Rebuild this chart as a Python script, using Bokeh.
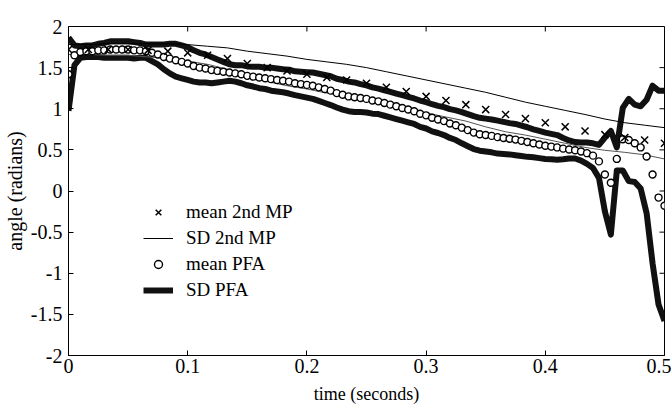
import numpy as np
from bokeh.plotting import figure
from bokeh.models import Range1d, Legend, LegendItem, FixedTicker
from bokeh.embed import file_html
from bokeh.resources import INLINE

# ---- data ----
pfa_step = 0.005          # seconds between PFA samples
mean_pfa = [1.42, 1.65, 1.69, 1.70, 1.70, 1.71, 1.71, 1.72, 1.72, 1.72,
            1.72, 1.71, 1.71, 1.70, 1.68, 1.66, 1.63, 1.61, 1.59, 1.57,
            1.55, 1.52, 1.50, 1.49, 1.47, 1.46, 1.45, 1.44, 1.43, 1.42,
            1.40, 1.39, 1.38, 1.37, 1.36, 1.35, 1.34, 1.33, 1.31, 1.30,
            1.29, 1.28, 1.26, 1.24, 1.22, 1.19, 1.17, 1.15, 1.14, 1.13,
            1.12, 1.10, 1.09, 1.07, 1.05, 1.03, 1.01, 0.99, 0.97, 0.94,
            0.92, 0.89, 0.87, 0.85, 0.82, 0.80, 0.77, 0.74, 0.71, 0.69,
            0.68, 0.67, 0.655, 0.645, 0.635, 0.625, 0.61, 0.595, 0.58, 0.565,
            0.55, 0.54, 0.53, 0.515, 0.505, 0.495, 0.48, 0.46, 0.43, 0.36,
            0.20, 0.10, 0.39, 0.63, 0.62, 0.58, 0.53, 0.42, 0.20, -0.08,
            -0.18]
sd_pfa = [0.445, 0.12, 0.07, 0.07, 0.07, 0.08, 0.09, 0.10, 0.10, 0.10,
          0.10, 0.10, 0.09, 0.08, 0.10, 0.12, 0.15, 0.18, 0.20, 0.20,
          0.20, 0.19, 0.18, 0.17, 0.16, 0.14, 0.12, 0.10, 0.10, 0.11,
          0.115, 0.12, 0.13, 0.13, 0.14, 0.14, 0.14, 0.145, 0.145, 0.15,
          0.155, 0.16, 0.165, 0.17, 0.175, 0.175, 0.18, 0.18, 0.18, 0.17,
          0.165, 0.16, 0.155, 0.155, 0.155, 0.155, 0.155, 0.155, 0.155, 0.16,
          0.16, 0.165, 0.165, 0.17, 0.175, 0.18, 0.19, 0.195, 0.20, 0.20,
          0.20, 0.20, 0.20, 0.195, 0.19, 0.19, 0.185, 0.18, 0.17, 0.165,
          0.16, 0.155, 0.15, 0.13, 0.11, 0.10, 0.11, 0.13, 0.15, 0.20,
          0.45, 0.63, 0.14, 0.38, 0.50, 0.47, 0.50, 0.69, 1.08, 1.30,
          1.40]

mp_step = 1.0 / 60.0       # seconds between 2nd MP samples
mean_mp = [1.72, 1.72, 1.72, 1.72, 1.71, 1.70, 1.68, 1.65, 1.61, 1.55,
           1.50, 1.46, 1.42, 1.38, 1.35, 1.31, 1.26, 1.21, 1.15, 1.10,
           1.05, 0.99, 0.93, 0.88, 0.83, 0.78, 0.73, 0.685, 0.65, 0.62,
           0.58]
sd_mp = [0.06, 0.06, 0.07, 0.07, 0.08, 0.09, 0.10, 0.11, 0.13, 0.15,
         0.17, 0.18, 0.18, 0.19, 0.19, 0.19, 0.19, 0.19, 0.20, 0.20,
         0.20, 0.21, 0.21, 0.20, 0.20, 0.20, 0.20, 0.19, 0.18, 0.18,
         0.19]

x_ticks = [0, 0.1, 0.2, 0.3, 0.4, 0.5]
x_tick_labels = ["0", "0.1", "0.2", "0.3", "0.4", "0.5"]
y_ticks = [-2, -1.5, -1, -0.5, 0, 0.5, 1, 1.5, 2]
y_tick_labels = ["-2", "-1.5", "-1", "-0.5", "0", "0.5", "1", "1.5", "2"]

# ---- derived ----
t_pfa = np.arange(len(mean_pfa)) * pfa_step
t_mp = np.arange(len(mean_mp)) * mp_step
m_pfa = np.array(mean_pfa)
s_pfa = np.array(sd_pfa)
m_mp = np.array(mean_mp)
s_mp = np.array(sd_mp)

FONT = "Liberation Serif"
X0, X1, Y0, Y1 = 0.0, 0.5, -2.0, 2.0
W, H = 671, 410
BL, BR, BT, BB = 68, 7, 26, 55

p = figure(width=W, height=H, x_range=Range1d(X0, X1), y_range=Range1d(Y0, Y1),
           output_backend="svg", toolbar_location=None,
           min_border_left=BL, min_border_right=BR, min_border_top=BT, min_border_bottom=BB)
p.grid.visible = False
p.outline_line_color = "black"
p.outline_line_width = 1
p.background_fill_color = "white"
p.border_fill_color = "white"

def style_axis(ax, ticks, labels, size):
    ax.ticker = FixedTicker(ticks=ticks)
    ax.major_label_overrides = {t: l for t, l in zip(ticks, labels)}
    ax.major_tick_in = 5
    ax.major_tick_out = 0
    ax.minor_tick_in = 0
    ax.minor_tick_out = 0
    ax.axis_line_color = "black"
    ax.major_tick_line_color = "black"
    ax.major_label_text_font = FONT
    ax.major_label_text_font_size = "20px"
    ax.major_label_text_color = "black"
    ax.axis_label_text_font = FONT
    ax.axis_label_text_font_size = size
    ax.axis_label_text_font_style = "normal"
    ax.axis_label_text_color = "black"

style_axis(p.xaxis[0], x_ticks, x_tick_labels, "18px")
style_axis(p.yaxis[0], y_ticks, y_tick_labels, "20px")
p.xaxis[0].axis_label = "time (seconds)"
p.yaxis[0].axis_label = "angle (radians)"
p.xaxis[0].major_label_standoff = 3
p.xaxis[0].axis_label_standoff = 8
p.yaxis[0].major_label_standoff = 6
p.yaxis[0].axis_label_standoff = 2

# inward tick marks on the top and right edges of the box
frame_w = W - BL - BR
frame_h = H - BT - BB
tick_len_x = 5 * (X1 - X0) / frame_w
tick_len_y = 5 * (Y1 - Y0) / frame_h
p.segment(x0=x_ticks, x1=x_ticks, y0=[Y1] * len(x_ticks), y1=[Y1 - tick_len_y] * len(x_ticks),
          line_color="black", line_width=1)
p.segment(x0=[X1] * len(y_ticks), x1=[X1 - tick_len_x] * len(y_ticks), y0=y_ticks, y1=y_ticks,
          line_color="black", line_width=1)

# SD PFA (thick)
r_sdp_hi = p.line(t_pfa, m_pfa + s_pfa, line_color="#111111", line_width=6, line_join="round")
r_sdp_lo = p.line(t_pfa, m_pfa - s_pfa, line_color="#111111", line_width=6, line_join="round")
# SD 2nd MP (thin)
r_sdm_hi = p.line(t_mp, m_mp + s_mp, line_color="black", line_width=1)
r_sdm_lo = p.line(t_mp, m_mp - s_mp, line_color="#555555", line_width=1)
# mean PFA (circles)
r_mp_pfa = p.scatter(t_pfa, m_pfa, marker="circle", size=7, line_color="black",
                     line_width=1.4, fill_color="white")
# mean 2nd MP (crosses)
r_mp_mp = p.scatter(t_mp, m_mp, marker="x", size=10, line_color="black", line_width=1.5)

legend = Legend(items=[
    LegendItem(label="mean 2nd MP", renderers=[r_mp_mp]),
    LegendItem(label="SD 2nd MP", renderers=[r_sdm_hi]),
    LegendItem(label="mean PFA", renderers=[r_mp_pfa]),
    LegendItem(label="SD PFA", renderers=[r_sdp_hi]),
], location=(75, 54), border_line_color=None, background_fill_alpha=0,
   glyph_width=30, glyph_height=20, label_height=20, spacing=4, padding=0, margin=0,
   label_standoff=13, label_text_font=FONT, label_text_font_size="19px",
   label_text_color="black")
p.add_layout(legend)

open("out.html", "w").write(file_html(p, INLINE))
